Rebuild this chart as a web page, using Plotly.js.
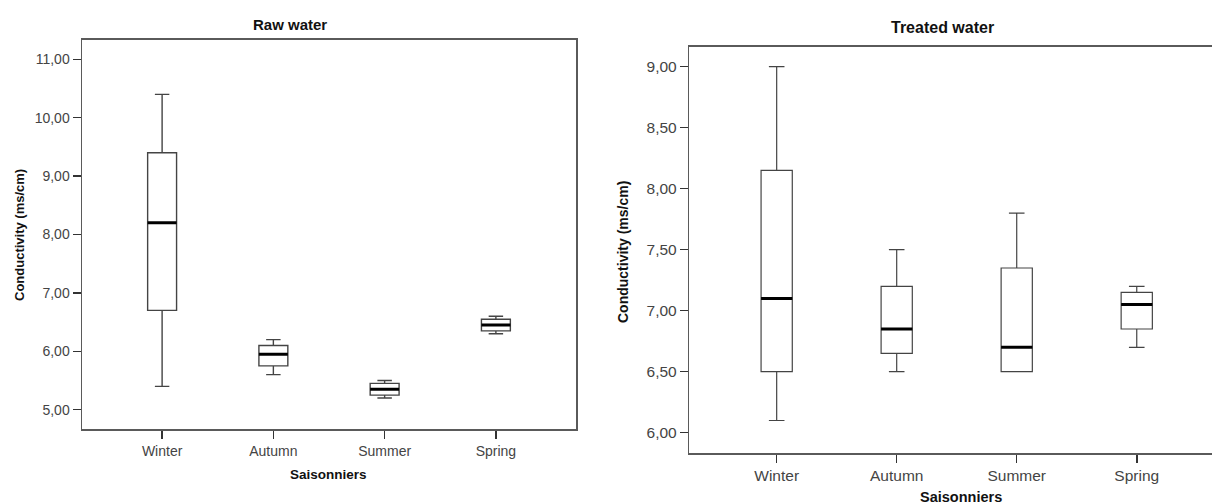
<!DOCTYPE html>
<html>
<head>
<meta charset="utf-8">
<script src="https://cdn.plot.ly/plotly-3.0.1.min.js"></script>
<style>html,body{margin:0;padding:0;background:#fff;}#chart{width:1212px;height:504px;}</style>
</head>
<body>
<div id="chart"></div>
<script>
// ---- data ----
const seasons = ["Winter", "Autumn", "Summer", "Spring"];

const rawMin    = [5.40, 5.60, 5.20, 6.30];
const rawQ1     = [6.70, 5.75, 5.25, 6.35];
const rawMedian = [8.20, 5.95, 5.35, 6.45];
const rawQ3     = [9.40, 6.10, 5.45, 6.55];
const rawMax    = [10.40, 6.20, 5.50, 6.60];

const trtMin    = [6.10, 6.50, 6.50, 6.70];
const trtQ1     = [6.50, 6.65, 6.50, 6.85];
const trtMedian = [7.10, 6.85, 6.70, 7.05];
const trtQ3     = [8.15, 7.20, 7.35, 7.15];
const trtMax    = [9.00, 7.50, 7.80, 7.20];

const rawTicks = [5, 6, 7, 8, 9, 10, 11];
const trtTicks = [6.0, 6.5, 7.0, 7.5, 8.0, 8.5, 9.0];

// ---- helpers ----
const W = 1212, H = 504;
const px = x => x / W;
const py = y => (H - y) / H;
const pos = seasons.map((s, i) => i);
const BOXW = 0.26;
const FONT = "Liberation Sans, Arial, sans-serif";

function boxTrace(q1, med, q3, lo, hi, xa, ya, lw) {
  return {
    type: "box", x: pos, q1: q1, median: med, q3: q3,
    lowerfence: lo, upperfence: hi,
    width: BOXW, whiskerwidth: 0.5,
    fillcolor: "#ffffff",
    line: {color: "#444444", width: lw},
    boxpoints: false, hoverinfo: "skip",
    xaxis: xa, yaxis: ya, showlegend: false
  };
}
function medianTrace(med, xa, ya) {
  const xs = [], ys = [];
  med.forEach((m, i) => { xs.push(i - BOXW / 2, i + BOXW / 2, null); ys.push(m, m, null); });
  return {type: "scatter", mode: "lines", x: xs, y: ys,
    line: {color: "#000000", width: 3}, hoverinfo: "skip",
    xaxis: xa, yaxis: ya, showlegend: false};
}

const data = [
  boxTrace(rawQ1, rawMedian, rawQ3, rawMin, rawMax, "x", "y", 1.4),
  medianTrace(rawMedian, "x", "y"),
  boxTrace(trtQ1, trtMedian, trtQ3, trtMin, trtMax, "x2", "y2", 1.2),
  medianTrace(trtMedian, "x2", "y2")
];

const axLine = {showline: true, linecolor: "#5a5a5a", linewidth: 1.5,
  showgrid: false, zeroline: false, ticks: "outside", ticklen: 8,
  tickwidth: 1.5, tickcolor: "#333333"};

const layout = {
  width: W, height: H,
  margin: {l: 0, r: 0, t: 0, b: 0},
  paper_bgcolor: "#ffffff", plot_bgcolor: "#ffffff",
  separators: ",.",
  showlegend: false,
  font: {family: FONT, color: "#444444"},
  xaxis: Object.assign({}, axLine, {
    domain: [px(82), px(576)], range: [-0.72, 3.72], mirror: true,
    tickvals: pos, ticktext: seasons, tickfont: {size: 14, color: "#444444"},
    anchor: "y"
  }),
  yaxis: Object.assign({}, axLine, {
    domain: [py(429.3), py(39.5)], range: [4.664, 11.34], mirror: true,
    tickvals: rawTicks, tickformat: ".2f", tickfont: {size: 14, color: "#444444"},
    anchor: "x"
  }),
  xaxis2: Object.assign({}, axLine, {
    domain: [px(689.3), 1], range: [-0.728, 3.627], mirror: true,
    tickvals: pos, ticktext: seasons, tickfont: {size: 15.5, color: "#444444"},
    anchor: "y2"
  }),
  yaxis2: Object.assign({}, axLine, {
    domain: [py(453.3), py(46.7)], range: [5.831, 9.164], mirror: false,
    tickvals: trtTicks, tickformat: ".2f", tickfont: {size: 15.5, color: "#444444"},
    anchor: "x2"
  }),
  annotations: [
    {text: "<b>Raw water</b>", x: px(290), y: py(24), xref: "paper", yref: "paper",
     showarrow: false, xanchor: "center", yanchor: "middle", font: {size: 15, color: "#111"}},
    {text: "<b>Treated water</b>", x: px(943), y: py(27), xref: "paper", yref: "paper",
     showarrow: false, xanchor: "center", yanchor: "middle", font: {size: 16, color: "#111"}},
    {text: "<b>Conductivity (ms/cm)</b>", x: px(19), y: py(235), xref: "paper", yref: "paper",
     showarrow: false, xanchor: "center", yanchor: "middle", textangle: -90, font: {size: 13, color: "#111"}},
    {text: "<b>Conductivity (ms/cm)</b>", x: px(623), y: py(252), xref: "paper", yref: "paper",
     showarrow: false, xanchor: "center", yanchor: "middle", textangle: -90, font: {size: 14, color: "#111"}},
    {text: "<b>Saisonniers</b>", x: px(328), y: py(474), xref: "paper", yref: "paper",
     showarrow: false, xanchor: "center", yanchor: "middle", font: {size: 13.5, color: "#111"}},
    {text: "<b>Saisonniers</b>", x: px(961), y: py(497), xref: "paper", yref: "paper",
     showarrow: false, xanchor: "center", yanchor: "middle", font: {size: 14.5, color: "#111"}}
  ]
};

Plotly.newPlot("chart", data, layout, {staticPlot: true, displayModeBar: false});
</script>
</body>
</html>
